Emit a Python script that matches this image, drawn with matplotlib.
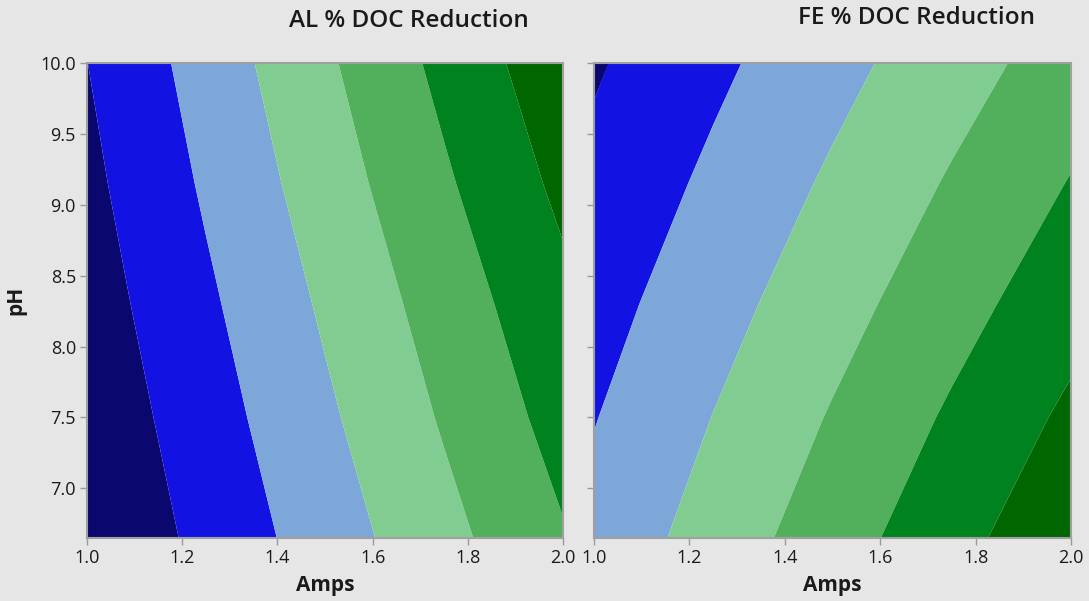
import matplotlib
matplotlib.use("Agg")
import matplotlib.pyplot as plt
import numpy as np
from matplotlib.ticker import FormatStrFormatter

plt.rcParams['font.family'] = ['Open Sans', 'DejaVu Sans']

# Grid (band value: boundaries between colour bands sit at 1,2,...,6)
amps = [1.0, 1.25, 1.5, 1.75, 2.0]
ph = [6.65, 7.5, 8.3, 9.15, 10.0]

al_doc = [
    [0.06, 1.28, 2.49, 3.70, 4.92],
    [0.29, 1.56, 2.83, 4.10, 5.37],
    [0.52, 1.83, 3.14, 4.45, 5.75],
    [0.76, 2.13, 3.50, 4.86, 6.23],
    [0.99, 2.42, 3.84, 5.26, 6.68],
]
fe_doc = [
    [2.31, 3.43, 4.55, 5.66, 6.78],
    [1.96, 3.02, 4.08, 5.14, 6.20],
    [1.62, 2.62, 3.62, 4.62, 5.62],
    [1.25, 2.20, 3.15, 4.10, 5.05],
    [0.89, 1.79, 2.68, 3.58, 4.47],
]

levels = [-10, 1, 2, 3, 4, 5, 6, 20]
band_colors = ['#0A086E', '#1212E2', '#7DA7D8', '#81CD91', '#52B05C', '#00821E', '#006600']

titles = ['AL % DOC Reduction', 'FE % DOC Reduction']
xticks = [1.0, 1.2, 1.4, 1.6, 1.8, 2.0]
yticks = [7.0, 7.5, 8.0, 8.5, 9.0, 9.5, 10.0]

bg = '#E6E6E6'
fig = plt.figure(figsize=(10.89, 6.01), dpi=100, facecolor=bg)
W, H = 1089, 601
ax1 = fig.add_axes([87 / W, 1 - 538 / H, 476 / W, 475 / H])
ax2 = fig.add_axes([594 / W, 1 - 538 / H, 477 / W, 475 / H])

for ax, z, show_y in [(ax1, al_doc, True), (ax2, fe_doc, False)]:
    ax.contourf(amps, ph, np.array(z), levels=levels, colors=band_colors, antialiased=True)
    ax.set_xlim(1.0, 2.0)
    ax.set_ylim(6.65, 10.0)
    ax.set_xticks(xticks)
    ax.set_yticks(yticks)
    ax.xaxis.set_major_formatter(FormatStrFormatter('%.1f'))
    ax.yaxis.set_major_formatter(FormatStrFormatter('%.1f'))
    ax.tick_params(direction='out', length=5, width=1, color='#9A9A9A',
                   labelsize=13, labelcolor='#1A1A1A', pad=3)
    if not show_y:
        ax.tick_params(axis='y', labelleft=False)
    for s in ax.spines.values():
        s.set_color('#A0A0A0')
        s.set_linewidth(1.5)
    ax.set_xlabel('Amps', fontsize=15, fontweight='bold', color='#1A1A1A', labelpad=6)

ax1.set_ylabel('pH', fontsize=15, fontweight='bold', color='#1A1A1A', labelpad=10)

fig.text(409 / W, 1 - 21 / H, titles[0], ha='center', va='center',
         fontsize=17.5, fontweight='semibold', color='#1A1A1A')
fig.text(917 / W, 1 - 18 / H, titles[1], ha='center', va='center',
         fontsize=17.5, fontweight='semibold', color='#1A1A1A')

fig.savefig('out.png', dpi=100, facecolor=bg)
